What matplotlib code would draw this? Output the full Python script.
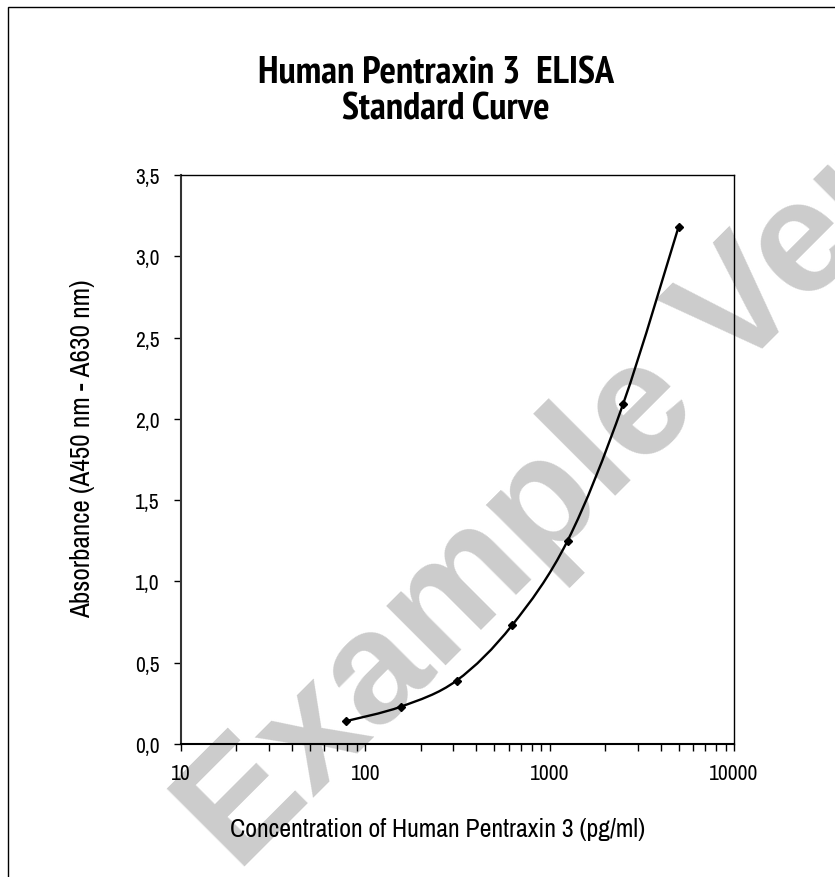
import numpy as np
import matplotlib
matplotlib.use('Agg')
import matplotlib.pyplot as plt
from matplotlib import font_manager
from matplotlib.path import Path
from matplotlib.patches import PathPatch, Rectangle
from matplotlib.ticker import FixedLocator, FuncFormatter, LogLocator, NullFormatter

concentration = [78.125, 156.25, 312.5, 625, 1250, 2500, 5000]
absorbance = [0.14, 0.23, 0.39, 0.73, 1.25, 2.09, 3.18]
y_ticks = [0.0, 0.5, 1.0, 1.5, 2.0, 2.5, 3.0, 3.5]
x_ticks = [10, 100, 1000, 10000]

title_lines = ['Human Pentraxin 3  ELISA', 'Standard Curve']
x_label = 'Concentration of Human Pentraxin 3 (pg/ml)'
y_label = 'Absorbance (A450 nm - A630 nm)'
watermark = 'Example Version'

NARROW = ['Liberation Sans Narrow', 'Arial Narrow', 'Archivo Narrow', 'PT Sans Narrow',
          'Roboto Condensed', 'Pragati Narrow', 'Encode Sans Condensed',
          'IBM Plex Sans Condensed']


def weight_of(f):
    w = f.weight
    if isinstance(w, str):
        w = font_manager.weight_dict.get(w, 400)
    return w


# pick narrow sans faces (the original uses Arial Narrow)
fonts = font_manager.fontManager.ttflist
installed = {f.name for f in fonts}
bold_ok = {f.name for f in fonts if weight_of(f) >= 650}
narrow = next((c for c in NARROW if c in installed), 'Liberation Sans')
narrow_bold = next((c for c in NARROW if c in bold_ok), 'Liberation Sans')
plt.rcParams['font.family'] = [narrow, 'Liberation Sans', 'DejaVu Sans']

W, H = 835, 878


def fx(px):
    return px / W


def fy(py):
    return 1 - py / H


def smooth_path(xs, ys):
    # excel-like smoothed line: bezier segments with catmull-rom handles (log x)
    lx = np.log10(xs)
    ys = np.asarray(ys, dtype=float)
    n = len(lx)
    verts = [(xs[0], ys[0])]
    codes = [Path.MOVETO]
    for i in range(n - 1):
        p0 = (lx[max(i - 1, 0)], ys[max(i - 1, 0)])
        p1 = (lx[i], ys[i])
        p2 = (lx[i + 1], ys[i + 1])
        p3 = (lx[min(i + 2, n - 1)], ys[min(i + 2, n - 1)])
        c1 = (p1[0] + (p2[0] - p0[0]) / 6, p1[1] + (p2[1] - p0[1]) / 6)
        c2 = (p2[0] - (p3[0] - p1[0]) / 6, p2[1] - (p3[1] - p1[1]) / 6)
        for c in (c1, c2, p2):
            verts.append((10 ** c[0], c[1]))
            codes.append(Path.CURVE4)
    return Path(verts, codes)


fig = plt.figure(figsize=(W / 100, H / 100), dpi=100)
renderer = fig.canvas.get_renderer()


def size_for(s, target, weight='normal', family=None):
    # font size that makes s span target pixels
    t = fig.text(0, 0, s, fontsize=20, fontweight=weight, family=family)
    w = t.get_window_extent(renderer).width
    t.remove()
    return 20 * target / w


# outer frame
fig.patches.append(Rectangle((fx(8), -0.5), 2, 1.5 - 8 / H, transform=fig.transFigure,
                             fill=False, edgecolor='black', linewidth=1, zorder=-2))

# watermark behind the plot
fig.text(fx(238), fy(874), watermark, fontsize=115, fontweight='bold',
         family=['Liberation Sans', 'DejaVu Sans'], color='#cccccc',
         rotation=45, ha='left', va='baseline', rotation_mode='anchor', zorder=-1)

ax = fig.add_axes([fx(181), fy(745), (734 - 181) / W, (745 - 176) / H])
ax.set_facecolor('none')
ax.set_zorder(1)

ax.add_patch(PathPatch(smooth_path(concentration, absorbance), fill=False,
                       edgecolor='black', linewidth=1.7, zorder=3))
ax.plot(concentration, absorbance, linestyle='none', marker='D', markersize=4,
        color='black', zorder=4)

ax.set_xscale('log')
ax.set_xlim(10, 10000)
ax.set_ylim(0, 3.5)
ax.xaxis.set_major_locator(FixedLocator(x_ticks))
ax.xaxis.set_minor_locator(LogLocator(base=10, subs=np.arange(2, 10)))
ax.xaxis.set_minor_formatter(NullFormatter())
ax.xaxis.set_major_formatter(FuncFormatter(lambda v, p: '%d' % v))
ax.set_yticks(y_ticks)
ax.yaxis.set_major_formatter(FuncFormatter(lambda v, p: ('%.1f' % v).replace('.', ',')))

tick_size = size_for('10000', 49)
ax.tick_params(axis='both', which='both', direction='out', length=5, width=1,
               labelsize=tick_size, colors='black')
ax.tick_params(axis='x', which='major', pad=9)
ax.tick_params(axis='y', which='major', pad=10.5)
for s in ['top', 'right']:
    ax.spines[s].set_linewidth(1)
for s in ['left', 'bottom']:
    ax.spines[s].set_linewidth(1.5)
ax.spines['left'].set_color('#333333')

ax.set_xlabel(x_label, fontsize=size_for(x_label, 416))
ax.xaxis.label.set_va('center')
ax.xaxis.set_label_coords((438 - 181) / (734 - 181), (745 - 830) / (745 - 176))
ax.set_ylabel(y_label, fontsize=size_for(y_label, 338))
ax.yaxis.label.set_va('center')
ax.yaxis.set_label_coords((83 - 181) / (734 - 181), (745 - 449) / (745 - 176))

title_fam = [narrow_bold, 'Liberation Sans', 'DejaVu Sans']
title_size = size_for(title_lines[0], 356, 'bold', title_fam)
fig.text(fx(436), fy(84), title_lines[0], ha='center', va='baseline',
         fontsize=title_size, fontweight='bold', family=title_fam)
fig.text(fx(446), fy(120), title_lines[1], ha='center', va='baseline',
         fontsize=title_size, fontweight='bold', family=title_fam)

fig.savefig('out.png', dpi=100)
